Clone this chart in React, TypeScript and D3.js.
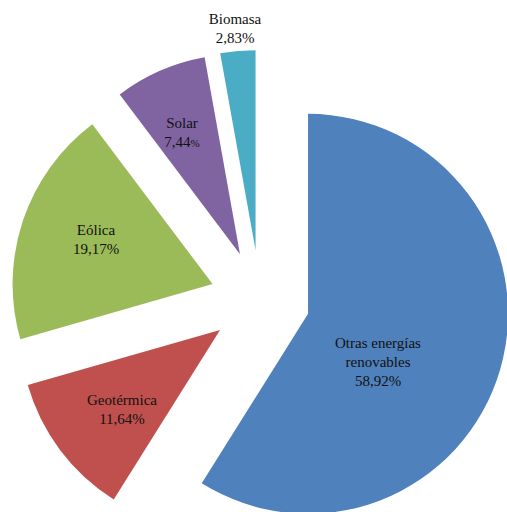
import React from "react";
import * as d3 from "d3";

const categories = ["Otras energías renovables", "Geotérmica", "Eólica", "Solar", "Biomasa"];
const values = [58.92, 11.64, 19.17, 7.44, 2.83];
const valueLabels = ["58,92", "11,64", "19,17", "7,44", "2,83"];
const labelLines = [["Otras energías", "renovables"], ["Geotérmica"], ["Eólica"], ["Solar"], ["Biomasa"]];
const colors = ["#4F81BD", "#C0504D", "#9BBB59", "#8064A2", "#4BACC6"];
// label anchor (center of first line) in px
const labelAnchors: [number, number][] = [
  [378, 348],
  [122, 405],
  [96, 235],
  [182, 128],
  [235, 24],
];
const smallPercent = [false, false, false, true, false];

const W = 507;
const H = 512;
const CX = 260;
const CY = 300;
const R = 200;
const EXPLODE = 50;

export default function App() {
  const pie = d3.pie<number>().sort(null).startAngle(0).endAngle(2 * Math.PI);
  const arcs = pie(values);
  const arc = d3.arc<d3.PieArcDatum<number>>().innerRadius(0).outerRadius(R);
  const lineH = 19;
  return (
    <svg
      width={W}
      height={H}
      style={{ position: "absolute", left: 0, top: 0, background: "#fff" }}
    >
      {arcs.map((a, i) => {
        const mid = (a.startAngle + a.endAngle) / 2;
        const dx = Math.sin(mid) * EXPLODE;
        const dy = -Math.cos(mid) * EXPLODE;
        return (
          <path
            key={categories[i]}
            d={arc(a) || ""}
            transform={`translate(${CX + dx},${CY + dy})`}
            fill={colors[i]}
          />
        );
      })}
      {arcs.map((a, i) => {
        const [lx, ly] = labelAnchors[i];
        const lines = labelLines[i];
        return (
          <text
            key={"l" + i}
            x={lx}
            y={ly}
            textAnchor="middle"
            fontFamily="Liberation Serif"
            fontSize={15}
            fill="#111"
          >
            {lines.map((t, j) => (
              <tspan key={j} x={lx} dy={j === 0 ? 0 : lineH}>
                {t}
              </tspan>
            ))}
            <tspan x={lx} dy={lineH}>
              {valueLabels[i]}
              <tspan fontSize={smallPercent[i] ? 11 : 15}>%</tspan>
            </tspan>
          </text>
        );
      })}
    </svg>
  );
}
